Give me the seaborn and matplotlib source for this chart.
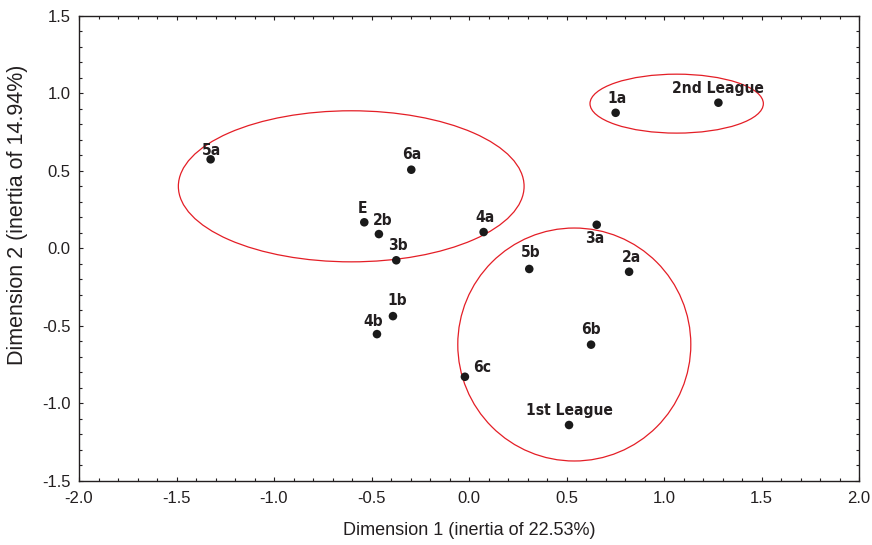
import numpy as np
import pandas as pd
import seaborn as sns
import matplotlib.pyplot as plt
from matplotlib.patches import Ellipse
from matplotlib.ticker import MultipleLocator

# Correspondence analysis coordinates
labels = ["5a", "6a", "E", "2b", "3b", "4a", "1b", "4b", "6c",
          "5b", "3a", "2a", "6b", "1st League", "1a", "2nd League"]
dim1 = [-1.325, -0.296, -0.537, -0.462, -0.373, 0.075, -0.390, -0.472, -0.021,
        0.309, 0.655, 0.821, 0.626, 0.513, 0.752, 1.279]
dim2 = [0.574, 0.507, 0.168, 0.092, -0.077, 0.105, -0.437, -0.553, -0.828,
        -0.133, 0.152, -0.151, -0.621, -1.139, 0.874, 0.939]

# Cluster outlines: centre x, centre y, width, height (data units)
grp_cx = [-0.604, 1.065, 0.540]
grp_cy = [0.400, 0.933, -0.620]
grp_w = [1.773, 0.889, 1.195]
grp_h = [0.974, 0.380, 1.502]

xlabel = "Dimension 1 (inertia of 22.53%)"
ylabel = "Dimension 2 (inertia of 14.94%)"

# label placement relative to each dot, in pixels (x right, y up)
label_off = {
    "5a": (1, 9), "6a": (0, 15), "E": (-2, 14), "2b": (4, 14), "3b": (2, 15),
    "4a": (1, 15), "1b": (4, 16), "4b": (-4, 13), "6c": (17, 9), "5b": (1, 16),
    "3a": (-2, -14), "2a": (2, 14), "6b": (0, 15), "1st League": (0, 15),
    "1a": (1, 14), "2nd League": (0, 14),
}

sns.set_style("ticks")
plt.rcParams["font.family"] = ["Liberation Sans", "DejaVu Sans"]

df = pd.DataFrame({"label": labels, "d1": dim1, "d2": dim2})

fig = plt.figure(figsize=(8.72, 5.45), dpi=100)
ax = fig.add_axes([79 / 872, 1 - 481 / 545, 780 / 872, (481 - 15.7) / 545])

sns.scatterplot(data=df, x="d1", y="d2", ax=ax, color="#1a1a1a",
                s=38, edgecolor="none", zorder=3, legend=False)

for cx, cy, w, h in zip(grp_cx, grp_cy, grp_w, grp_h):
    ax.add_patch(Ellipse((cx, cy), w, h, fill=False, edgecolor="#e41e26",
                         linewidth=0.9, zorder=2))

for lab, x, y in zip(labels, dim1, dim2):
    dx, dy = label_off[lab]
    ax.annotate(lab, (x, y), xytext=(dx * 0.72, dy * 0.72),
                textcoords="offset points", ha="center", va="center",
                fontsize=11.2, fontweight="bold", color="#231f20",
                family=["DejaVu Sans"], fontstretch="condensed")

ax.set_xlim(-2.0, 2.0)
ax.set_ylim(-1.5, 1.5)
ax.xaxis.set_major_locator(MultipleLocator(0.5))
ax.yaxis.set_major_locator(MultipleLocator(0.5))
ax.xaxis.set_minor_locator(MultipleLocator(0.1))
ax.yaxis.set_minor_locator(MultipleLocator(0.1))
ax.xaxis.set_major_formatter(plt.FormatStrFormatter("%.1f"))
ax.yaxis.set_major_formatter(plt.FormatStrFormatter("%.1f"))
ax.tick_params(which="both", direction="in", top=True, right=True,
               color="#231f20", width=0.8)
ax.tick_params(which="major", length=3, labelsize=12, labelcolor="#231f20")
ax.tick_params(which="minor", length=2)
ax.tick_params(axis="x", which="major", pad=7)
ax.tick_params(axis="y", which="major", pad=6)
for sp in ax.spines.values():
    sp.set_linewidth(1.0)
    sp.set_color("#231f20")

ax.set_xlabel(xlabel, fontsize=13, color="#231f20", labelpad=12)
ax.set_ylabel(ylabel, fontsize=15.5, color="#231f20", va="center")
ax.yaxis.set_label_coords(-0.079, 0.572)

fig.savefig("out.png", dpi=100)
